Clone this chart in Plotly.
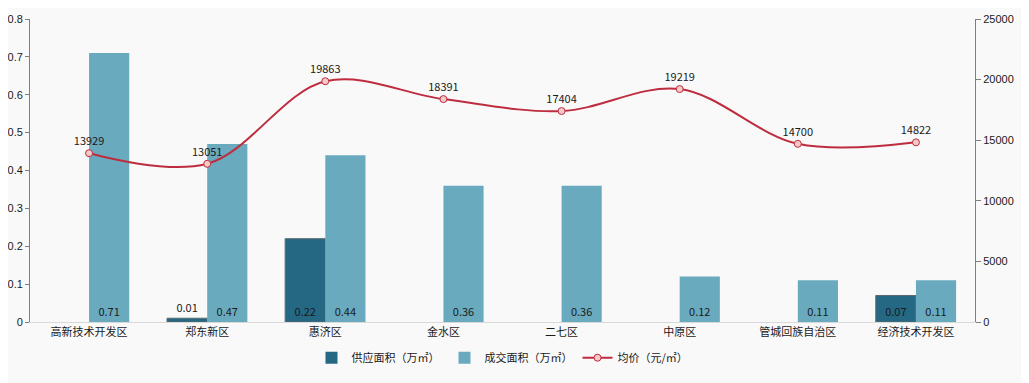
import plotly.graph_objects as go

categories = ["高新技术开发区", "郑东新区", "惠济区", "金水区", "二七区", "中原区", "管城回族自治区", "经济技术开发区"]
supply = [0, 0.01, 0.22, 0, 0, 0, 0, 0.07]
deal = [0.71, 0.47, 0.44, 0.36, 0.36, 0.12, 0.11, 0.11]
price = [13929, 13051, 19863, 18391, 17404, 19219, 14700, 14822]
left_ticks = [0, 0.1, 0.2, 0.3, 0.4, 0.5, 0.6, 0.7, 0.8]
left_tick_text = ["0", "0.1", "0.2", "0.3", "0.4", "0.5", "0.6", "0.7", "0.8"]

FONT = "Noto Sans CJK SC"
NUMFONT = "Liberation Sans"

def lbl(v):
    return "" if v == 0 else f"{v:.2f}"

sup_pos = ["outside" if 0 < v < 0.03 else "inside" for v in supply]

fig = go.Figure()
fig.add_trace(go.Bar(
    x=categories, y=supply, name="供应面积（万㎡）",
    marker=dict(color="#246884", line=dict(color="#5a6a70",
                width=[0 if v == 0 else 1 for v in supply])),
    text=[lbl(v) for v in supply], textposition=sup_pos,
    insidetextanchor="start", textangle=0,
    textfont=dict(color="#1a1a1a", size=11, family=FONT),
    outsidetextfont=dict(color="#1a1a1a", size=11, family=FONT),
    cliponaxis=False,
))
fig.add_trace(go.Bar(
    x=categories, y=deal, name="成交面积（万㎡）",
    marker=dict(color="#6AAABF", line=dict(width=0)),
    text=[lbl(v) for v in deal], textposition="inside",
    insidetextanchor="start", textangle=0,
    textfont=dict(color="#1a1a1a", size=11, family=FONT),
))
fig.add_trace(go.Scatter(
    x=categories, y=price, name="均价（元/㎡）", yaxis="y2",
    mode="lines+markers+text", line=dict(color="#BE2D3F", width=2, shape="spline"),
    marker=dict(size=7, color="#F2C9C6", line=dict(color="#BE2D3F", width=1)),
    text=[str(v) for v in price], textposition="top center",
    textfont=dict(color="#1a1a1a", size=11, family=FONT),
    cliponaxis=False,
))

fig.update_layout(
    width=1021, height=375,
    margin=dict(l=22, r=54, t=11, b=61),
    paper_bgcolor="#f9f9f9", plot_bgcolor="#f9f9f9",
    font=dict(family=FONT, size=11, color="#1a1a1a"),
    barmode="group", bargap=0.32, bargroupgap=0,
    showlegend=True,
    legend=dict(orientation="h", x=0.5, xanchor="center", y=-0.07, yanchor="top",
                font=dict(size=11), bgcolor="rgba(0,0,0,0)"),
    xaxis=dict(showgrid=False, showline=True, linecolor="#d9d9d9", ticks="",
               tickfont=dict(size=11), automargin=False),
    yaxis=dict(range=[0, 0.8], showgrid=False, showline=True,
               linecolor="#7f7f7f", ticks="outside", ticklen=4, tickcolor="#7f7f7f",
               zeroline=False, automargin=False,
               tickfont=dict(family=NUMFONT, size=11),
               tickvals=left_ticks, ticktext=left_tick_text),
    yaxis2=dict(range=[0, 25000], dtick=5000, overlaying="y", side="right",
                showgrid=False, showline=True, linecolor="#7f7f7f", ticks="outside",
                ticklen=5, tickcolor="#7f7f7f", zeroline=False, tickformat="d",
                tickfont=dict(family=NUMFONT, size=11), automargin=False),
)

fig.write_html("out.html")
